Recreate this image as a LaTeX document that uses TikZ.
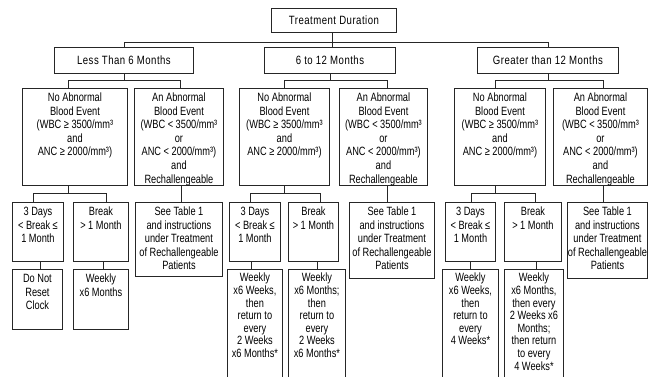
\documentclass[tikz,border=0pt]{standalone}
\usepackage{fontspec}
\setmainfont{Liberation Sans}[FakeStretch=0.77]
\newfontfamily\trk{Liberation Sans}[FakeStretch=0.8,LetterSpace=4]
\usetikzlibrary{calc}
\newcommand\bx[4]{\parbox[t][#2pt][t]{#1pt}{\centering\rule{0pt}{#3pt}#4\par}}
\begin{document}
\begin{tikzpicture}[x=1pt,y=-1pt,
  box/.style={draw=black!85,line width=0.9pt,inner sep=0pt,anchor=north west,
    font=\fontsize{12}{13.6}\selectfont},
  tall/.style={box,font=\fontsize{12}{12.6}\selectfont},
  head/.style={box,font=\fontsize{12}{13.6}\trk},
  conn/.style={draw=black!85,line width=0.9pt}]
\useasboundingbox (0,0) rectangle (650,376);
\fill[white] (0,0) rectangle (650,376);
\clip (0,0) rectangle (650,376);
% top
\node[head] (T) at (271,8) {\bx{125}{24}{16.3}{Treatment Duration}};
% level 1
\node[head] (L1a) at (54,47) {\bx{139}{26}{17.3}{Less Than 6 Months}};
\node[head] (L1b) at (264,47) {\bx{131}{26}{17.3}{6 to 12 Months}};
\node[head] (L1c) at (477,47) {\bx{141}{26}{17.3}{Greater than 12 Months}};
% level 2
\node[box] (A) at (22,88) {\bx{105}{97}{13}{No Abnormal\\Blood Event\\(WBC ≥ 3500/mm³\\and\\ANC ≥ 2000/mm³)}};
\node[box] (B) at (134,88) {\bx{89}{97}{13}{An Abnormal\\Blood Event\\(WBC < 3500/mm³\\or\\ANC < 2000/mm³)\\and\\Rechallengeable}};
\node[box] (C) at (239,88) {\bx{90}{97}{13}{No Abnormal\\Blood Event\\(WBC ≥ 3500/mm³\\and\\ANC ≥ 2000/mm³)}};
\node[box] (D) at (339,88) {\bx{88}{97}{13}{An Abnormal\\Blood Event\\(WBC < 3500/mm³\\or\\ANC < 2000/mm³)\\and\\Rechallengeable}};
\node[box] (E) at (454,88) {\bx{91}{97}{13}{No Abnormal\\Blood Event\\(WBC ≥ 3500/mm³\\and\\ANC ≥ 2000/mm³)}};
\node[box] (F) at (553,88) {\bx{94}{97}{13}{An Abnormal\\Blood Event\\(WBC < 3500/mm³\\or\\ANC < 2000/mm³)\\and\\Rechallengeable}};
% level 3
\node[box] (A1) at (12,202) {\bx{51}{59}{13}{3 Days\\< Break ≤\\1 Month}};
\node[box] (A2) at (73,202) {\bx{55}{59}{13}{Break\\> 1 Month}};
\node[box] (B1) at (135,202) {\bx{87}{74}{13}{See Table 1\\and instructions\\under Treatment\\of Rechallengeable\\Patients}};
\node[box] (C1) at (229,202) {\bx{51}{59}{13}{3 Days\\< Break ≤\\1 Month}};
\node[box] (C2) at (288,202) {\bx{50}{59}{13}{Break\\> 1 Month}};
\node[box] (D1) at (349,202) {\bx{85}{76}{13}{See Table 1\\and instructions\\under Treatment\\of Rechallengeable\\Patients}};
\node[box] (E1) at (445,202) {\bx{50}{59}{13}{3 Days\\< Break ≤\\1 Month}};
\node[box] (E2) at (504,202) {\bx{57}{59}{13}{Break\\> 1 Month}};
\node[box] (F1) at (567,202) {\bx{80}{76}{13}{See Table 1\\and instructions\\under Treatment\\of Rechallengeable\\Patients}};
% level 4
\node[box] (A1a) at (12,269) {\bx{50}{60}{13}{Do Not\\Reset\\Clock}};
\node[box] (A2a) at (73,269) {\bx{55}{60}{13}{Weekly\\x6 Months}};
\node[tall] (C1a) at (227,269) {\bx{55}{140}{12.5}{Weekly\\x6 Weeks,\\then\\return to\\every\\2 Weeks\\x6 Months*}};
\node[tall] (C2a) at (288,269) {\bx{57}{140}{12.5}{Weekly\\x6 Months;\\then\\return to\\every\\2 Weeks\\x6 Months*}};
\node[tall] (E1a) at (442,269) {\bx{56}{140}{12.5}{Weekly\\x6 Weeks,\\then\\return to\\every\\4 Weeks*}};
\node[tall] (E2a) at (504,269) {\bx{59}{140}{12.5}{Weekly\\x6 Months,\\then every\\2 Weeks x6\\Months;\\then return\\to every\\4 Weeks*}};
% connectors: top
\draw[conn] ([xshift=-1.5pt]T.south) -- ([xshift=-1.5pt]T.south |- L1b.north);
\draw[conn] (L1a.north) |- ($(T.south)+(0,10)$) -| (L1c.north);
% level 1 -> 2
\draw[conn] (L1a.south) -- ++(0,7) coordinate (ja);
\draw[conn] ([xshift=-6.5pt]A.north) |- (ja) -| ([xshift=1.5pt]B.north);
\draw[conn] (L1b.south) -- ++(0,7) coordinate (jb);
\draw[conn] (C.north) |- (jb) -| ([xshift=4pt]D.north);
\draw[conn] (L1c.south) -- ++(0,7) coordinate (jc);
\draw[conn] ([xshift=-4.5pt]E.north) |- (jc) -| ([xshift=3pt]F.north);
% level 2 -> 3
\draw[conn] ([xshift=-6.5pt]A.south) -- ++(0,8) coordinate (jA);
\draw[conn] ([xshift=-4.5pt]A1.north) |- (jA) -| ([xshift=5.5pt]A2.north);
\draw[conn] ([xshift=2.5pt]B.south) -- ([xshift=2.5pt]B.south |- B1.north);
\draw[conn] (C.south) -- ++(0,8) coordinate (jC);
\draw[conn] ([xshift=-4.5pt]C1.north) |- (jC) -| ([xshift=7pt]C2.north);
\draw[conn] ([xshift=4pt]D.south) -- ([xshift=4pt]D.south |- D1.north);
\draw[conn] ([xshift=-4.5pt]E.south) -- ++(0,8) coordinate (jE);
\draw[conn] ([xshift=1pt]E1.north) |- (jE) -| ([xshift=2.5pt]E2.north);
\draw[conn] ([xshift=3pt]F.south) -- ([xshift=3pt]F.south |- F1.north);
% level 3 -> 4
\draw[conn] ([xshift=2.5pt]A1.south) -- ([xshift=2.5pt]A1.south |- A1a.north);
\draw[conn] ([xshift=2.5pt]A2.south) -- ([xshift=2.5pt]A2.south |- A2a.north);
\draw[conn] ([xshift=-3.5pt]C1.south) -- ([xshift=-3.5pt]C1.south |- C1a.north);
\draw[conn] ([xshift=4pt]C2.south) -- ([xshift=4pt]C2.south |- C2a.north);
\draw[conn] (E1.south) -- (E1.south |- E1a.north);
\draw[conn] ([xshift=3.5pt]E2.south) -- ([xshift=3.5pt]E2.south |- E2a.north);
\end{tikzpicture}
\end{document}
